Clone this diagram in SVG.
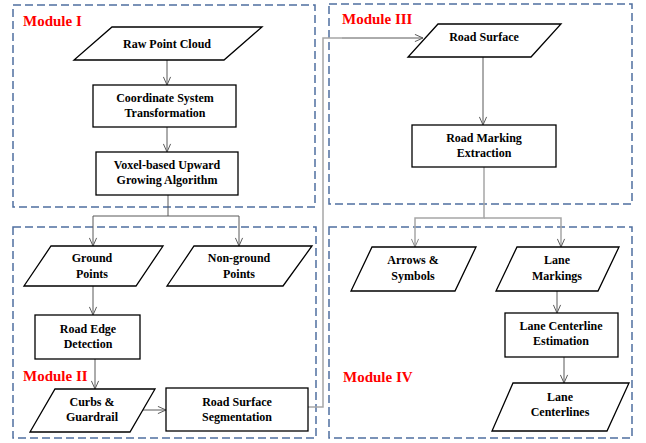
<svg xmlns="http://www.w3.org/2000/svg" width="646" height="443" viewBox="0 0 646 443">
  <style>
    .module { fill: none; stroke: #4f6fa0; stroke-width: 1.5; stroke-dasharray: 8 4; }
    .mlabel { font-family: "Liberation Serif", "Times New Roman", serif; font-weight: bold; font-size: 15px; fill: #ff0000; }
    .shape { fill: #ffffff; stroke: #000000; stroke-width: 1.3; }
    .label { font-family: "Liberation Serif", "Times New Roman", serif; font-weight: bold; font-size: 12px; fill: #000000; text-anchor: middle; }
    .wire { fill: none; stroke: #595959; stroke-width: 1; }
    .wire-light { fill: none; stroke: #a6a6a6; stroke-width: 1.5; }
  </style>
  <defs>
    <marker id="chev" viewBox="0 0 10 10" refX="10" refY="5" markerWidth="9" markerHeight="9" markerUnits="userSpaceOnUse" orient="auto">
      <path d="M1,1 L10,5 L1,9" fill="none" stroke="#595959" stroke-width="1.1"/>
    </marker>
    <marker id="chev-light" viewBox="0 0 10 10" refX="10" refY="5" markerWidth="9" markerHeight="9" markerUnits="userSpaceOnUse" orient="auto">
      <path d="M1,1 L10,5 L1,9" fill="none" stroke="#8c8c8c" stroke-width="1.1"/>
    </marker>
  </defs>

  <rect width="646" height="443" fill="#ffffff"/>

  <!-- module frames -->
  <g id="modules">
    <rect class="module" x="13" y="5" width="302" height="202"/>
    <rect class="module" x="13" y="227" width="303" height="211"/>
    <rect class="module" x="329" y="4" width="303" height="200"/>
    <rect class="module" x="329" y="227" width="303" height="211"/>
    <text class="mlabel" x="23" y="26">Module I</text>
    <text class="mlabel" x="23" y="381">Module II</text>
    <text class="mlabel" x="342" y="24">Module III</text>
    <text class="mlabel" x="343" y="382">Module IV</text>
  </g>

  <!-- connectors -->
  <g id="connectors">
    <line class="wire" x1="167" y1="60" x2="167" y2="85" marker-end="url(#chev)"/>
    <line class="wire" x1="167" y1="127" x2="167" y2="152" marker-end="url(#chev)"/>
    <polyline class="wire" points="168,195 168,216 93,216 93,246" marker-end="url(#chev)"/>
    <polyline class="wire" points="168,216 239,216 239,246" marker-end="url(#chev)"/>
    <line class="wire" x1="93" y1="286" x2="93" y2="315" marker-end="url(#chev)"/>
    <line class="wire" x1="95" y1="359" x2="95" y2="389" marker-end="url(#chev)"/>
    <line class="wire" x1="143" y1="410" x2="166" y2="410" marker-end="url(#chev)"/>
    <polyline class="wire-light" points="308,407 323,407 323,38 342,38"/>
    <line class="wire" x1="342" y1="38" x2="423" y2="38" marker-end="url(#chev)"/>
    <line class="wire" x1="483" y1="57" x2="483" y2="125" marker-end="url(#chev)"/>
    <polyline class="wire-light" points="484,167 484,218 415,218 415,247" marker-end="url(#chev-light)"/>
    <polyline class="wire-light" points="484,218 561,218 561,247" marker-end="url(#chev)"/>
    <line class="wire" x1="557" y1="291" x2="557" y2="313" marker-end="url(#chev)"/>
    <line class="wire" x1="564" y1="357" x2="564" y2="383" marker-end="url(#chev)"/>
  </g>

  <!-- Module I -->
  <g id="raw-point-cloud">
    <polygon class="shape" points="112,27 262,27 224,60 74,60"/>
    <text class="label" x="167" y="48">Raw Point Cloud</text>
  </g>
  <g id="coordinate-transformation">
    <rect class="shape" x="93" y="85" width="143" height="42"/>
    <text class="label" x="165" y="102">Coordinate System</text>
    <text class="label" x="165" y="117">Transformation</text>
  </g>
  <g id="voxel-growing">
    <rect class="shape" x="96" y="152" width="142" height="43"/>
    <text class="label" x="167" y="169">Voxel-based Upward</text>
    <text class="label" x="167" y="184">Growing Algorithm</text>
  </g>

  <!-- Module II -->
  <g id="ground-points">
    <polygon class="shape" points="51,246 163,246 136,286 24,286"/>
    <text class="label" x="92" y="262">Ground</text>
    <text class="label" x="92" y="278">Points</text>
  </g>
  <g id="non-ground-points">
    <polygon class="shape" points="194,246 312,246 283,286 167,286"/>
    <text class="label" x="239" y="262">Non-ground</text>
    <text class="label" x="239" y="278">Points</text>
  </g>
  <g id="road-edge-detection">
    <rect class="shape" x="35" y="315" width="105" height="44"/>
    <text class="label" x="88" y="333">Road Edge</text>
    <text class="label" x="88" y="348">Detection</text>
  </g>
  <g id="curbs-guardrail">
    <polygon class="shape" points="55,389 155,389 130,432 30,432"/>
    <text class="label" x="92" y="406">Curbs &amp;</text>
    <text class="label" x="92" y="421">Guardrail</text>
  </g>
  <g id="road-surface-segmentation">
    <rect class="shape" x="166" y="388" width="142" height="43"/>
    <text class="label" x="237" y="406">Road Surface</text>
    <text class="label" x="237" y="421">Segmentation</text>
  </g>

  <!-- Module III -->
  <g id="road-surface">
    <polygon class="shape" points="438,24 561,24 531,57 408,57"/>
    <text class="label" x="484" y="41">Road Surface</text>
  </g>
  <g id="road-marking-extraction">
    <rect class="shape" x="412" y="125" width="144" height="42"/>
    <text class="label" x="484" y="142">Road Marking</text>
    <text class="label" x="484" y="157">Extraction</text>
  </g>

  <!-- Module IV -->
  <g id="arrows-symbols">
    <polygon class="shape" points="372,247 476,247 455,291 351,291"/>
    <text class="label" x="413" y="264">Arrows &amp;</text>
    <text class="label" x="413" y="280">Symbols</text>
  </g>
  <g id="lane-markings">
    <polygon class="shape" points="517,247 619,247 598,291 496,291"/>
    <text class="label" x="557" y="264">Lane</text>
    <text class="label" x="557" y="280">Markings</text>
  </g>
  <g id="lane-centerline-estimation">
    <rect class="shape" x="505" y="313" width="113" height="44"/>
    <text class="label" x="561" y="330">Lane Centerline</text>
    <text class="label" x="561" y="345">Estimation</text>
  </g>
  <g id="lane-centerlines">
    <polygon class="shape" points="513,383 629,383 607,431 492,431"/>
    <text class="label" x="560" y="401">Lane</text>
    <text class="label" x="560" y="416">Centerlines</text>
  </g>
</svg>
